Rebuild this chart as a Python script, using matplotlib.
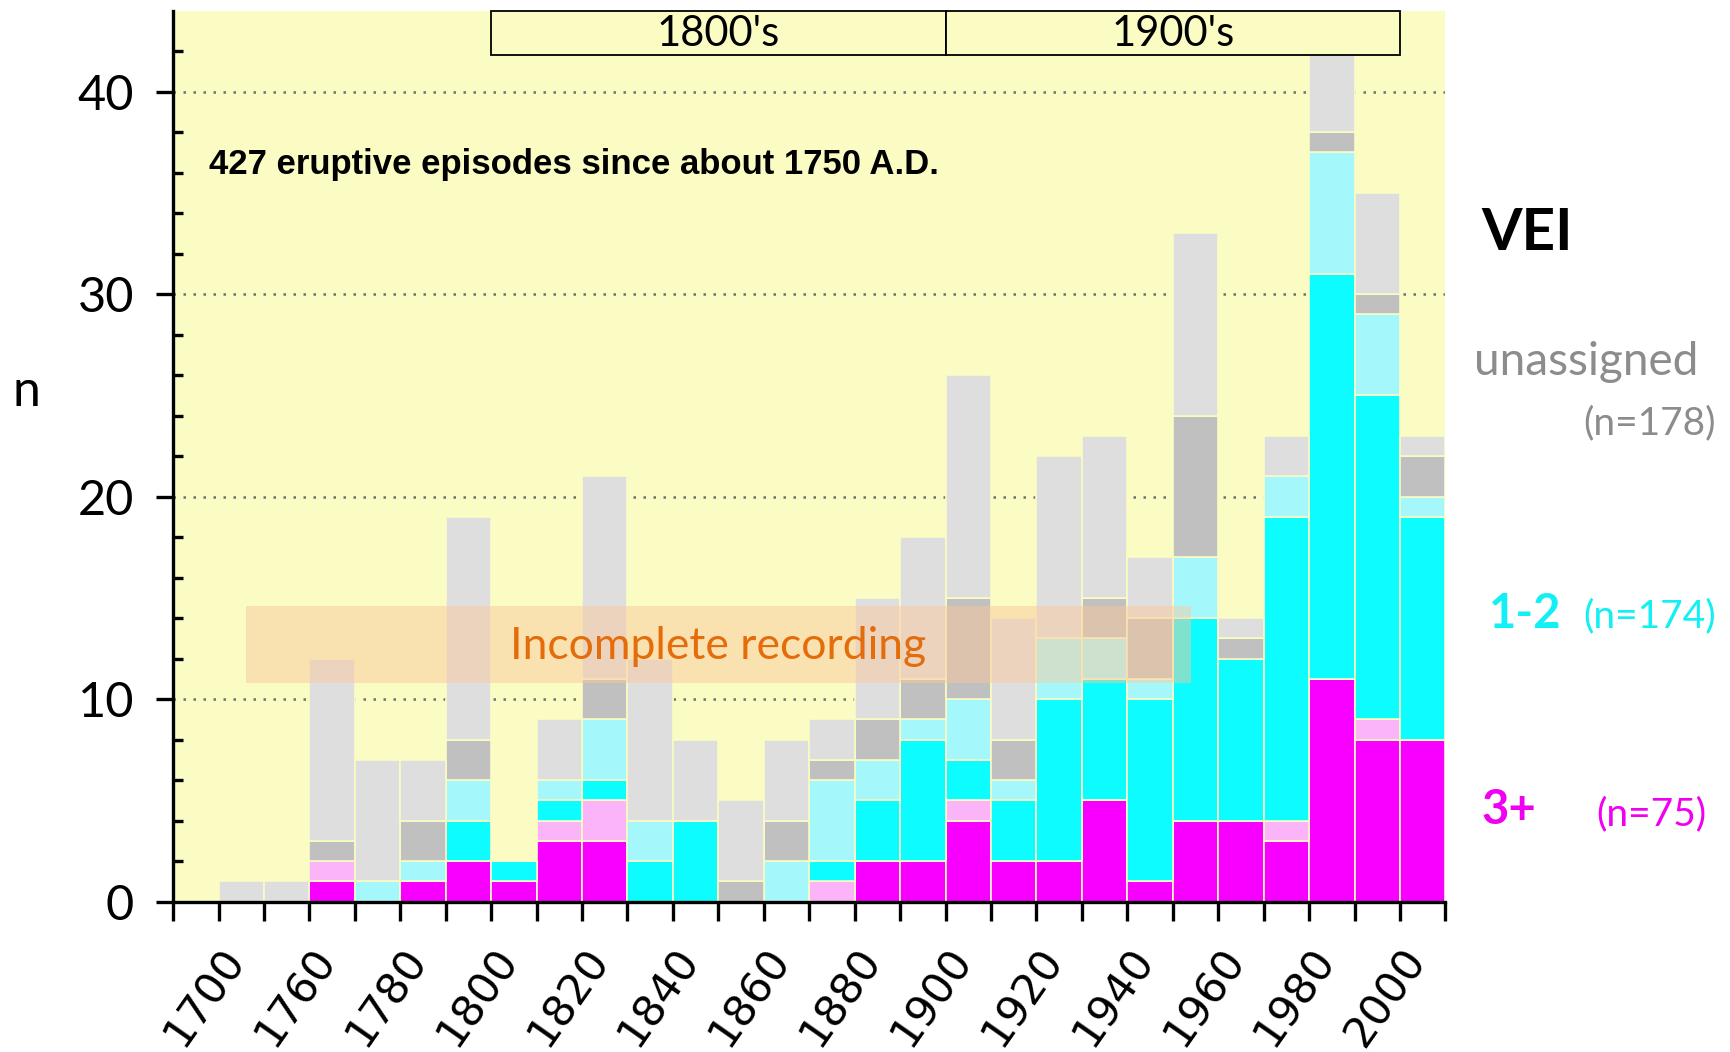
import matplotlib
matplotlib.use("Agg")
import matplotlib.pyplot as plt
from matplotlib.patches import Rectangle
import numpy as np

# decade start years, one stacked bar per decade
decades = [1740, 1750, 1760, 1770, 1780, 1790, 1800, 1810, 1820, 1830, 1840,
           1850, 1860, 1870, 1880, 1890, 1900, 1910, 1920, 1930, 1940, 1950,
           1960, 1970, 1980, 1990, 2000]

# VEI 3+ (certain / uncertain)
vei3 = [0, 0, 1, 0, 1, 2, 1, 3, 3, 0, 0, 0, 0, 0, 2, 2, 4, 2, 2, 5, 1, 4, 4, 3, 11, 8, 8]
vei3_q = [0, 0, 1, 0, 0, 0, 0, 1, 2, 0, 0, 0, 0, 1, 0, 0, 1, 0, 0, 0, 0, 0, 0, 1, 0, 1, 0]
# VEI 1-2 (certain / uncertain)
vei12 = [0, 0, 0, 0, 0, 2, 1, 1, 1, 2, 4, 0, 0, 1, 3, 6, 2, 3, 8, 6, 9, 10, 8, 15, 20, 16, 11]
vei12_q = [0, 0, 0, 1, 1, 2, 0, 1, 3, 2, 0, 0, 2, 4, 2, 1, 3, 1, 3, 2, 1, 3, 0, 2, 6, 4, 1]
# unassigned (dark / light gray)
unas_d = [0, 0, 1, 0, 2, 2, 0, 0, 2, 0, 0, 1, 2, 1, 2, 2, 5, 2, 0, 2, 3, 7, 1, 0, 1, 1, 2]
unas_l = [1, 1, 9, 6, 3, 11, 0, 3, 10, 8, 4, 4, 4, 2, 6, 7, 11, 6, 9, 8, 3, 9, 1, 2, 5, 5, 1]

tick_years = list(range(1730, 2011, 10))
label_years = {1740: "1700", 1760: "1760", 1780: "1780", 1800: "1800", 1820: "1820",
               1840: "1840", 1860: "1860", 1880: "1880", 1900: "1900", 1920: "1920",
               1940: "1940", 1960: "1960", 1980: "1980", 2000: "2000"}

bg = "#FAFCC3"
series = [
    (vei3, "#F700FF"),
    (vei3_q, "#FBB4F7"),
    (vei12, "#0CFCFF"),
    (vei12_q, "#A4F8FC"),
    (unas_d, "#C0C0C0"),
    (unas_l, "#DEDEDE"),
]

fig = plt.figure(figsize=(17.31, 10.52), dpi=100)
ax = fig.add_axes([0.100, 0.143, 0.735, 0.847])
ax.set_facecolor(bg)

bottom = np.zeros(len(decades))
for vals, col in series:
    ax.bar(decades, vals, width=10, align="edge", bottom=bottom, color=col,
           edgecolor=bg, linewidth=1.2, zorder=3)
    bottom += np.array(vals)

ax.set_xlim(1730, 2010)
ax.set_ylim(0, 44)

for g in [10, 20, 30, 40]:
    ax.axhline(g, color="#707070", linestyle=(0, (1, 3)), linewidth=1.8, zorder=1)

# incomplete recording band
ax.add_patch(Rectangle((1746, 10.8), 208, 3.8, facecolor="#FCC79C", alpha=0.48,
                       edgecolor="none", zorder=5))
ax.text(1850, 12.6, "Incomplete recording", color="#E46C0A", fontsize=32,
        family="Lato", ha="center", va="center", zorder=6)

# century boxes
for x0, lab in [(1800, "1800's"), (1900, "1900's")]:
    ax.add_patch(Rectangle((x0, 41.8), 100, 2.2, facecolor=bg, edgecolor="black",
                           linewidth=1.3, zorder=6, clip_on=False))
    ax.text(x0 + 50, 42.85, lab, fontsize=30, family="Lato", ha="center",
            va="center", zorder=7)

ax.text(1738, 36.4, "427 eruptive episodes since about 1750 A.D.", fontsize=25,
        fontweight="bold", family="Liberation Sans", va="center", zorder=7)

for s in ["top", "right"]:
    ax.spines[s].set_visible(False)
ax.spines["left"].set_linewidth(2.4)
ax.spines["bottom"].set_linewidth(2.4)
ax.spines["left"].set_zorder(8)
ax.spines["bottom"].set_zorder(8)

ax.set_yticks([0, 10, 20, 30, 40])
ax.set_yticks(np.arange(0, 44, 2), minor=True)
ax.tick_params(axis="y", which="major", direction="out", length=12, width=2.4,
               labelsize=35, pad=16)
ax.tick_params(axis="y", which="minor", direction="in", length=7, width=2.4)
for lab in ax.get_yticklabels():
    lab.set_family("Lato")

ax.set_xticks(tick_years)
ax.set_xticklabels([label_years.get(y, "") for y in tick_years], rotation=55,
                   ha="right", rotation_mode="anchor", fontsize=31,
                   family="DejaVu Sans")
ax.tick_params(axis="x", which="major", direction="out", length=14, width=2.4, pad=14)
ax.tick_params(axis="x", which="minor", bottom=False)

fig.text(0.007, 0.627, "n", fontsize=36, family="Lato", va="center")

fig.text(0.856, 0.778, "VEI", fontsize=42, fontweight="bold", family="Lato",
         va="center")
fig.text(0.8515, 0.656, "unassigned", fontsize=33, family="Lato", color="#8C8C8C",
         va="center")
fig.text(0.991, 0.598, "(n=178)", fontsize=28, family="Lato", color="#8C8C8C",
         va="center", ha="right")
fig.text(0.860, 0.416, "1-2", fontsize=34, fontweight="bold", family="Lato",
         color="#12F0F5", va="center")
fig.text(0.991, 0.414, "(n=174)", fontsize=28, family="Lato", color="#12F0F5",
         va="center", ha="right")
fig.text(0.856, 0.230, "3+", fontsize=34, fontweight="bold", family="Lato",
         color="#F000F0", va="center")
fig.text(0.986, 0.226, "(n=75)", fontsize=28, family="Lato", color="#F000F0",
         va="center", ha="right")

fig.savefig("out.png", dpi=100, facecolor="white")
